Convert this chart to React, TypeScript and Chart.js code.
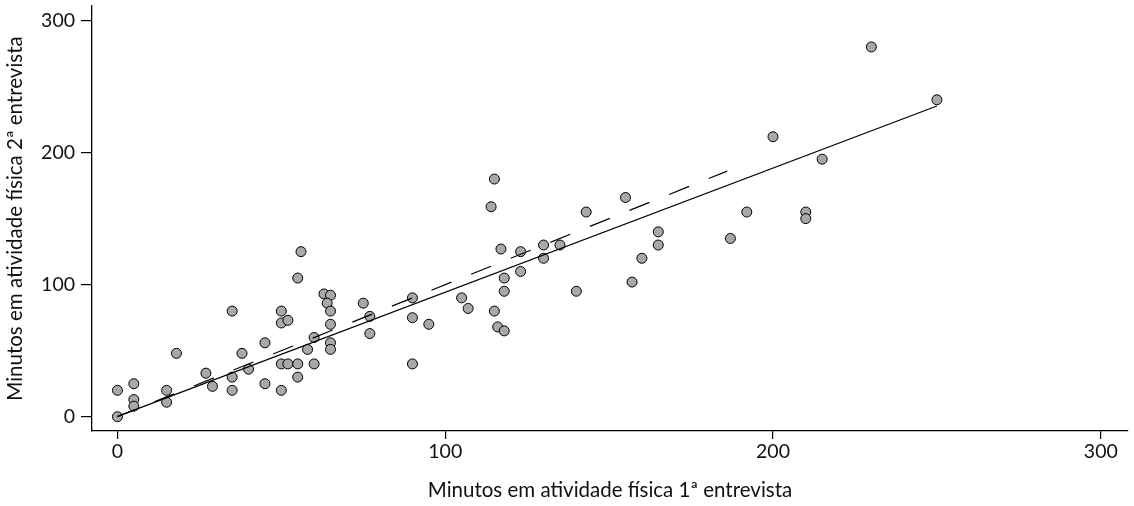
import React, { useEffect, useRef } from "react";
import { Chart, registerables } from "chart.js";

Chart.register(...registerables);

// Scatter data: minutes of physical activity, 1st vs 2nd interview
const xValues = [
  0, 0, 5, 5, 5, 15, 15, 18, 27, 29, 35, 35, 35, 38, 40, 45, 45, 50, 50, 52,
  50, 52, 55, 55, 50, 55, 56, 58, 60, 60, 63, 65, 64, 65, 65, 65, 65, 75, 77, 77,
  90, 90, 90, 95, 105, 107, 115, 116, 118, 117, 123, 118, 118, 123, 130, 130, 135, 140, 114, 115,
  143, 155, 165, 165, 160, 157, 187, 192, 200, 210, 210, 215, 250, 230,
];
const yValues = [
  0, 20, 25, 13, 8, 20, 11, 48, 33, 23, 80, 30, 20, 48, 36, 56, 25, 80, 71, 73,
  40, 40, 40, 30, 20, 105, 125, 51, 60, 40, 93, 92, 86, 80, 70, 56, 51, 86, 76, 63,
  90, 75, 40, 70, 90, 82, 80, 68, 65, 127, 125, 105, 95, 110, 130, 120, 130, 95, 159, 180,
  155, 166, 140, 130, 120, 102, 135, 155, 212, 155, 150, 195, 240, 280,
];

// Fitted regression line (solid) and dashed reference line
const fitLineX = [0, 250];
const fitLineY = [0.3, 235.3];
const dashLineX = [0, 186];
const dashLineY = [0, 186];

const xTickValues = [0, 100, 200, 300];
const yTickValues = [0, 100, 200, 300];

const xTitle = "Minutos em atividade física 1ª entrevista";
const yTitle = "Minutos em atividade física 2ª entrevista";

const FONT = "Lato, 'Open Sans', sans-serif";

export default function App() {
  const ref = useRef<HTMLCanvasElement | null>(null);

  useEffect(() => {
    if (!ref.current) return;
    const toPts = (xs: number[], ys: number[]) => xs.map((x, i) => ({ x, y: ys[i] }));
    const chart = new Chart(ref.current, {
      type: "scatter",
      data: {
        datasets: [
          {
            type: "line",
            data: toPts(fitLineX, fitLineY),
            borderColor: "#000",
            borderWidth: 1.2,
            pointRadius: 0,
            fill: false,
          },
          {
            type: "line",
            data: toPts(dashLineX, dashLineY),
            borderColor: "#000",
            borderWidth: 1.2,
            borderDash: [21.5, 21.2],
            borderDashOffset: 3,
            pointRadius: 0,
            fill: false,
          },
          {
            data: toPts(xValues, yValues),
            backgroundColor: "#a8a8a8",
            borderColor: "#000",
            borderWidth: 1,
            pointRadius: 5,
          },
        ],
      },
      options: {
        responsive: false,
        animation: false,
        layout: { padding: { top: 6, right: 4, left: 0, bottom: 0 } },
        plugins: {
          legend: { display: false },
          tooltip: { enabled: false },
        },
        scales: {
          x: {
            type: "linear",
            min: -7.76,
            max: 308.3,
            afterBuildTicks: (scale: any) => {
              scale.ticks = xTickValues.map((v) => ({ value: v }));
            },
            afterFit: (scale: any) => {
              scale.height = 75;
              scale.paddingLeft = 0;
              scale.paddingRight = 0;
            },
            grid: {
              drawOnChartArea: false,
              drawTicks: true,
              tickLength: 8,
              color: "#000",
              lineWidth: 1.2,
            },
            border: { display: true, color: "#000", width: 1.3 },
            ticks: {
              padding: 1,
              color: "#111",
              font: { family: FONT, size: 19.5 },
              maxRotation: 0,
            },
            title: {
              display: true,
              text: xTitle,
              color: "#111",
              font: { family: FONT, size: 20.5 },
              padding: { top: 0, bottom: 3 },
            },
          },
          y: {
            type: "linear",
            min: -10.8,
            max: 311,
            afterBuildTicks: (scale: any) => {
              scale.ticks = yTickValues.map((v) => ({ value: v }));
            },
            afterFit: (scale: any) => {
              scale.width = 92;
              scale.paddingTop = 0;
              scale.paddingBottom = 0;
            },
            grid: {
              drawOnChartArea: false,
              drawTicks: true,
              tickLength: 11,
              color: "#000",
              lineWidth: 1.2,
            },
            border: { display: true, color: "#000", width: 1.3 },
            ticks: {
              padding: 6,
              color: "#111",
              font: { family: FONT, size: 19.5 },
            },
            title: {
              display: true,
              text: yTitle,
              color: "#111",
              font: { family: FONT, size: 20.5 },
              padding: { top: 3, bottom: 0 },
            },
          },
        },
      },
    } as any);
    return () => chart.destroy();
  }, []);

  return (
    <div style={{ position: "absolute", left: 0, top: 0, width: 1134, height: 506, background: "#fff" }}>
      <canvas ref={ref} width={1134} height={506} style={{ width: 1134, height: 506 }} />
    </div>
  );
}
